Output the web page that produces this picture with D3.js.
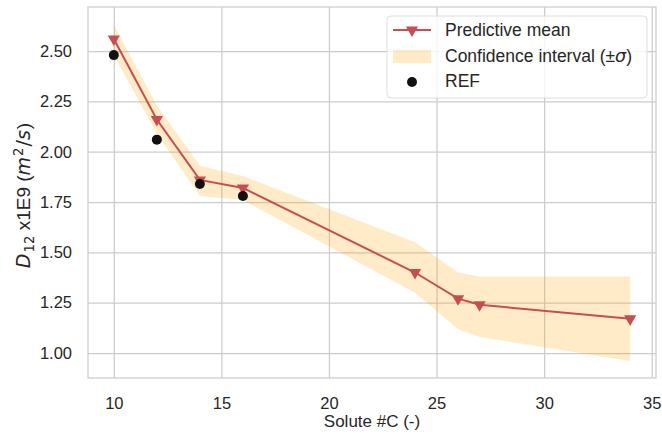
<!DOCTYPE html>
<html>
<head>
<meta charset="utf-8">
<script src="https://cdn.jsdelivr.net/npm/d3@7"></script>
<style>
  body { margin: 0; background: #fff; }
  text { font-family: "Liberation Sans", Arial, sans-serif; fill: #262626; }
  .math { font-family: "DejaVu Sans", sans-serif; }
</style>
</head>
<body>
<svg class="chart"></svg>
<script>
// data
var solute = [10, 12, 14, 16, 24, 26, 27, 34];
var meanD = [2.56, 2.16, 1.86, 1.82, 1.40, 1.27, 1.24, 1.17];
var upperD = [2.63, 2.23, 1.93, 1.88, 1.55, 1.40, 1.38, 1.38];
var lowerD = [2.48, 2.09, 1.78, 1.76, 1.30, 1.12, 1.08, 0.96];
var refSolute = [10, 12, 14, 16];
var refD = [2.48, 2.06, 1.84, 1.78];
var xTicks = [10, 15, 20, 25, 30, 35];
var yTicks = [1.00, 1.25, 1.50, 1.75, 2.00, 2.25, 2.50];

// define margins
var margin = {top: 7, right: 6, bottom: 66, left: 88},
  width = 662 - margin.left - margin.right,
  height = 444 - margin.top - margin.bottom;

var x = d3.scaleLinear().domain([8.8, 35.2]).range([0, width]);
var y = d3.scaleLinear().domain([0.876, 2.719]).range([height, 0]);

var svg = d3.select(".chart")
  .attr("width", 662)
  .attr("height", 444);

var chart = svg.append("g")
  .attr("transform", "translate(" + margin.left + "," + margin.top + ")");

// grid
chart.append("g")
  .attr("class", "grid")
  .attr("transform", "translate(0," + height + ")")
  .call(d3.axisBottom(x).tickValues(xTicks).tickSize(-height).tickFormat(""))
  .call(function(g) { g.select(".domain").remove(); });

chart.append("g")
  .attr("class", "grid")
  .call(d3.axisLeft(y).tickValues(yTicks).tickSize(-width).tickFormat(""))
  .call(function(g) { g.select(".domain").remove(); });

chart.selectAll(".grid line")
  .attr("stroke", "#cccccc")
  .attr("stroke-width", 1.25);

// frame
chart.append("rect")
  .attr("width", width)
  .attr("height", height)
  .attr("fill", "none")
  .attr("stroke", "#cccccc")
  .attr("stroke-width", 1.25);

// tick labels
var xAxis = chart.append("g")
  .attr("transform", "translate(0," + height + ")")
  .call(d3.axisBottom(x).tickValues(xTicks).tickSize(0).tickPadding(19));
xAxis.select(".domain").remove();
xAxis.selectAll("text")
  .style("font-size", "16.5px")
  .style("font-family", "Liberation Sans, Arial, sans-serif")
  .attr("fill", "#262626");

var yAxis = chart.append("g")
  .call(d3.axisLeft(y).tickValues(yTicks).tickSize(0).tickPadding(16)
    .tickFormat(d3.format(".2f")));
yAxis.select(".domain").remove();
yAxis.selectAll("text")
  .style("font-size", "16.5px")
  .style("font-family", "Liberation Sans, Arial, sans-serif")
  .attr("fill", "#262626");

// confidence band
var band = d3.area()
  .x(function(d, i) { return x(solute[i]); })
  .y0(function(d, i) { return y(lowerD[i]); })
  .y1(function(d, i) { return y(upperD[i]); });

chart.append("path")
  .datum(solute)
  .attr("d", band)
  .attr("fill", "orange")
  .attr("fill-opacity", 0.22);

// predictive mean line
var line = d3.line()
  .x(function(d, i) { return x(solute[i]); })
  .y(function(d) { return y(d); });

chart.append("path")
  .datum(meanD)
  .attr("d", line)
  .attr("fill", "none")
  .attr("stroke", "#c44e52")
  .attr("stroke-width", 2);

var tri = d3.symbol().type(d3.symbolTriangle).size(65);

chart.selectAll(".mean")
  .data(meanD)
  .enter().append("path")
  .attr("class", "mean")
  .attr("d", tri)
  .attr("transform", function(d, i) {
    return "translate(" + x(solute[i]) + "," + y(d) + ") rotate(180)";
  })
  .attr("fill", "#c44e52");

// reference points
chart.selectAll(".ref")
  .data(refD)
  .enter().append("circle")
  .attr("class", "ref")
  .attr("cx", function(d, i) { return x(refSolute[i]); })
  .attr("cy", function(d) { return y(d); })
  .attr("r", 5)
  .attr("fill", "#111");

// x-axis label
svg.append("text")
  .attr("x", margin.left + width / 2)
  .attr("y", 427)
  .style("text-anchor", "middle")
  .style("font-size", "17px")
  .text("Solute #C (-)");

// y-axis label
var ylab = svg.append("text")
  .attr("transform", "translate(30," + (margin.top + height / 2 + 3) + ") rotate(-90)")
  .style("text-anchor", "middle")
  .style("font-size", "19px");
ylab.append("tspan").attr("class", "math").style("font-style", "italic").text("D");
ylab.append("tspan").attr("class", "math").attr("dy", 4).attr("dx", 1).style("font-size", "13.3px").text("12");
ylab.append("tspan").attr("dy", -4).text(" x1E9 (");
ylab.append("tspan").attr("class", "math").style("font-style", "italic").text("m");
ylab.append("tspan").attr("class", "math").attr("dy", -7).attr("dx", 1).style("font-size", "13.3px").text("2");
ylab.append("tspan").attr("class", "math").attr("dy", 7).attr("dx", 1).text("/");
ylab.append("tspan").attr("class", "math").style("font-style", "italic").text("s");
ylab.append("tspan").attr("dx", 1).text(")");

// legend
var legend = svg.append("g").attr("transform", "translate(387,16)");

legend.append("rect")
  .attr("width", 260)
  .attr("height", 82)
  .attr("rx", 4)
  .attr("fill", "#fff")
  .attr("fill-opacity", 0.8)
  .attr("stroke", "#dddddd");

legend.append("line")
  .attr("x1", 6).attr("x2", 44)
  .attr("y1", 14).attr("y2", 14)
  .attr("stroke", "#c44e52")
  .attr("stroke-width", 2);
legend.append("path")
  .attr("d", tri)
  .attr("transform", "translate(25,14) rotate(180)")
  .attr("fill", "#c44e52");

legend.append("rect")
  .attr("x", 6).attr("y", 34)
  .attr("width", 38).attr("height", 13)
  .attr("fill", "orange")
  .attr("fill-opacity", 0.22);

legend.append("circle")
  .attr("cx", 25).attr("cy", 66)
  .attr("r", 5)
  .attr("fill", "#111");

var labels = ["Predictive mean", "Confidence interval (±", "REF"];
legend.selectAll(".lab")
  .data(labels)
  .enter().append("text")
  .attr("class", "lab")
  .attr("x", 58)
  .attr("y", function(d, i) { return 20 + i * 25.6; })
  .style("font-size", "17.5px")
  .text(function(d) { return d; })
  .filter(function(d, i) { return i === 1; })
  .call(function(t) {
    t.append("tspan").attr("class", "math").style("font-style", "italic").text("σ");
    t.append("tspan").text(")");
  });
</script>
</body>
</html>
